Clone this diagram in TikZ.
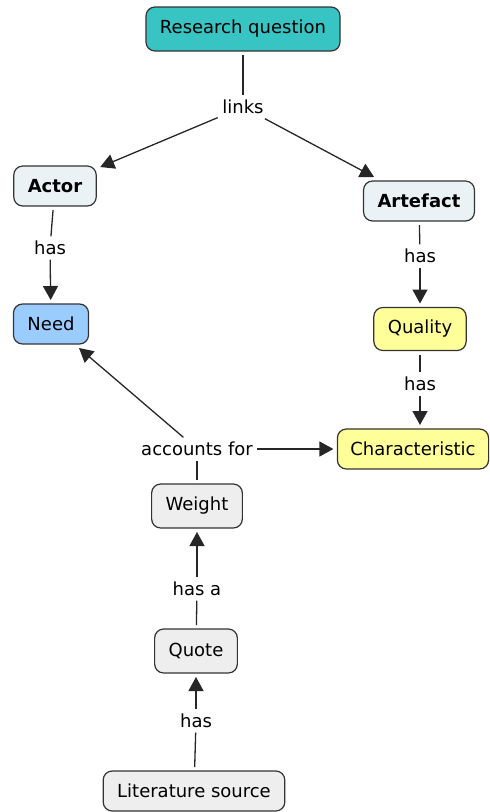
\documentclass[tikz,border=0pt]{standalone}
\usepackage{fontspec}
\setmainfont{DejaVu Sans}
\usetikzlibrary{arrows.meta}

\definecolor{questionteal}{RGB}{56,196,194}
\definecolor{actorpale}{RGB}{234,242,245}
\definecolor{needblue}{RGB}{155,204,255}
\definecolor{qualityyellow}{RGB}{255,255,153}
\definecolor{sourcegrey}{RGB}{238,238,238}
\newcommand\cmapfont{\fontsize{18}{21}\selectfont}

\begin{document}
\begin{tikzpicture}
  [
    x=1pt,y=-1pt,
    concept/.style={
      draw=black!80,
      line width=1.2pt,
      rounded corners=9pt,
      minimum height=40pt,
      inner xsep=14pt,
      outer sep=4pt,
      font=\cmapfont
    },
    question/.style={
      concept,
      fill=questionteal,
      minimum height=44pt
    },
    pale/.style={
      concept,
      fill=actorpale,
      font=\cmapfont\bfseries
    },
    needbox/.style={
      concept,
      fill=needblue
    },
    yellowbox/.style={
      concept,
      fill=qualityyellow
    },
    greybox/.style={
      concept,
      fill=sourcegrey
    },
    linkword/.style={
      inner sep=4.5pt,
      font=\cmapfont
    },
    conn/.style={
      line width=1.3pt,
      black!85
    },
    arr/.style={
      conn,
      -{Triangle[length=14pt,width=15pt]}
    }
  ]

  \useasboundingbox (0,0) rectangle (490,812);

  \node [question] (question) at (243,29) {Research question};
  \node [linkword] (links) at (243,107) {links};
  \node [pale] (actor) at (55,186) {Actor};
  \node [pale] (artefact) at (419,201) {Artefact};

  \node [linkword] (actorhas) at (50,248) {has};
  \node [needbox] (need) at (51,324) {Need};
  \node [linkword] (artefacthas) at (420,256) {has};
  \node [yellowbox, minimum height=43pt] (quality) at (420,329) {Quality};
  \node [linkword] (qualityhas) at (420,384) {has};
  \node [yellowbox, inner xsep=13pt] (characteristic) at (413,449) {Characteristic};

  \node [linkword] (accounts) at (197,449) {accounts for};
  \node [greybox, minimum height=44pt] (weight) at (197,506) {Weight};
  \node [linkword] (hasa) at (197,589) {has a};
  \node [greybox, minimum height=44pt] (quote) at (196,651) {Quote};
  \node [linkword] (quotehas) at (196,721) {has};
  \node [greybox] (source) at (194,791) {Literature source};

  \draw [conn] (question) -- (links);
  \draw [arr] (links) -- (actor);
  \draw [arr] (links) -- (artefact);

  \draw [conn] (actor) -- (actorhas);
  \draw [arr] (actorhas) -- (need);
  \draw [conn] (artefact) -- (artefacthas);
  \draw [arr] (artefacthas) -- (quality);
  \draw [conn] (quality) -- (qualityhas);
  \draw [arr] (qualityhas) -- (characteristic.north -| qualityhas);

  \draw [conn] (weight) -- (accounts);
  \draw [arr] (accounts) -- (need);
  \draw [arr] (accounts) -- (characteristic);
  \draw [conn] (quote) -- (hasa);
  \draw [arr] (hasa) -- (weight);
  \draw [conn] (source) -- (quotehas);
  \draw [arr] (quotehas) -- (quote);

\end{tikzpicture}
\end{document}
